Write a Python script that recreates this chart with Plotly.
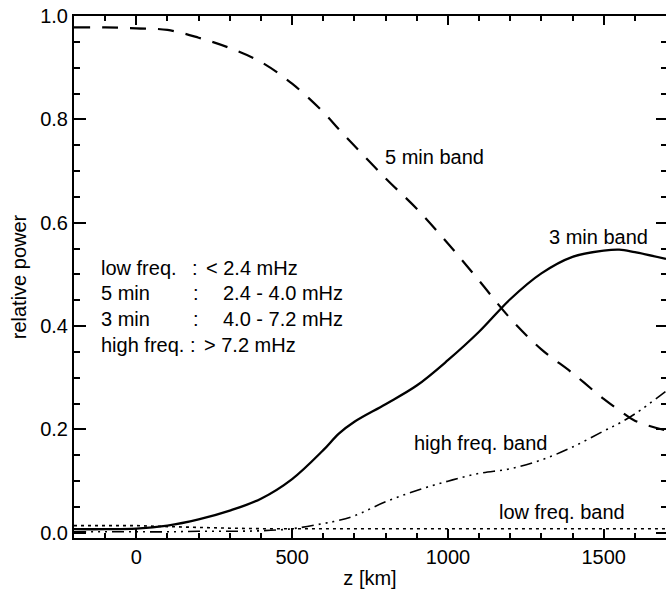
import plotly.graph_objects as go

# Height grid (km) and relative power in each frequency band
z_km = [-200, -100, 0, 100, 200, 300, 400, 500, 600, 650, 700, 800, 900,
        1000, 1100, 1200, 1300, 1400, 1500, 1550, 1600, 1700]

band_5min = [0.978, 0.978, 0.976, 0.973, 0.958, 0.938, 0.911, 0.869, 0.814, 0.781,
             0.749, 0.686, 0.627, 0.560, 0.488, 0.415, 0.355, 0.309, 0.259, 0.237,
             0.217, 0.198]
band_3min = [0.007, 0.007, 0.008, 0.014, 0.026, 0.043, 0.066, 0.104, 0.160, 0.192,
             0.215, 0.249, 0.285, 0.334, 0.389, 0.452, 0.502, 0.534, 0.546, 0.548,
             0.543, 0.530]
band_high = [0.002, 0.002, 0.002, 0.002, 0.003, 0.003, 0.004, 0.008, 0.018, 0.024,
             0.033, 0.060, 0.082, 0.100, 0.115, 0.124, 0.141, 0.166, 0.197, 0.212,
             0.230, 0.274]
band_low = [0.014, 0.014, 0.014, 0.012, 0.010, 0.009, 0.008, 0.008, 0.008, 0.008,
            0.008, 0.008, 0.008, 0.008, 0.008, 0.008, 0.008, 0.008, 0.008, 0.008,
            0.008, 0.008]

x_ticks = [0, 500, 1000, 1500]
y_ticks = [0.0, 0.2, 0.4, 0.6, 0.8, 1.0]
y_ticktext = ["0.0", "0.2", "0.4", "0.6", "0.8", "1.0"]

FONT = "Liberation Sans, Arial, Helvetica, sans-serif"
TXT = dict(family=FONT, size=20, color="black")

fig = go.Figure()
fig.add_trace(go.Scatter(x=z_km, y=band_5min, mode="lines",
                         line=dict(color="black", width=2.2, dash="16px,12px", shape="spline", smoothing=1.0)))
fig.add_trace(go.Scatter(x=z_km, y=band_3min, mode="lines",
                         line=dict(color="black", width=2.3, shape="spline", smoothing=1.0)))
fig.add_trace(go.Scatter(x=z_km, y=band_high, mode="lines",
                         line=dict(color="black", width=1.6, shape="spline", smoothing=1.0,
                                   dash="12px,5px,2px,5px,2px,5px,2px,5px")))
fig.add_trace(go.Scatter(x=z_km, y=band_low, mode="lines", yaxis="y2",
                         line=dict(color="black", width=1.6, dash="3px,4px")))

# Curve labels
labels = [
    ("5 min band", 793, 0.727),
    ("3 min band", 1317, 0.572),
    ("high freq. band", 886, 0.173),
    ("low freq. band", 1157, 0.040),
]
annotations = [dict(text=t, x=x, y=y, xref="x", yref="y", xanchor="left", yanchor="middle",
                    showarrow=False, font=TXT) for t, x, y in labels]

# Band definitions block
band_names = ["low freq.", "5 min", "3 min", "high freq."]
band_ranges = ["< 2.4 mHz", "2.4 - 4.0 mHz", "4.0 - 7.2 mHz", "> 7.2 mHz"]
rows_y = [0.512, 0.464, 0.414, 0.364]
colon_x = [172, 176, 176, 166]
range_x = [217, 272, 272, 211]
for name, rng, yy, cx, rx in zip(band_names, band_ranges, rows_y, colon_x, range_x):
    annotations.append(dict(text=name, x=-120, y=yy, xref="x", yref="y", xanchor="left",
                            yanchor="middle", showarrow=False, font=TXT))
    annotations.append(dict(text=":", x=cx, y=yy, xref="x", yref="y", xanchor="left",
                            yanchor="middle", showarrow=False, font=TXT))
    annotations.append(dict(text=rng, x=rx, y=yy, xref="x", yref="y", xanchor="left",
                            yanchor="middle", showarrow=False, font=TXT))

fig.update_layout(
    width=666, height=589,
    margin=dict(l=74, r=0, t=16, b=51),
    paper_bgcolor="white", plot_bgcolor="white",
    showlegend=False,
    font=TXT,
    annotations=annotations,
    xaxis=dict(range=[-200, 1700], tickvals=x_ticks, ticks="inside", ticklen=9, tickwidth=2,
               tickcolor="black", showline=True, linewidth=2, linecolor="black", mirror="ticks",
               showgrid=False, zeroline=False, tickfont=TXT,
               minor=dict(dtick=100, tick0=0, ticks="inside", ticklen=5, tickwidth=1.5, tickcolor="black"),
               title=dict(text="z [km]", font=TXT, standoff=4)),
    yaxis=dict(range=[-0.01, 1.0], tickvals=y_ticks, ticktext=y_ticktext, ticks="inside",
               ticklen=12, tickwidth=2, tickcolor="black", showline=True, linewidth=2,
               linecolor="black", showgrid=False, zeroline=False, tickfont=TXT,
               minor=dict(dtick=0.05, tick0=0, ticks="inside", ticklen=6, tickwidth=1.5, tickcolor="black"),
               title=dict(text="relative power", font=TXT, standoff=8)),
    yaxis2=dict(range=[-0.01, 1.0], overlaying="y", side="right", tickvals=y_ticks,
                ticks="inside", ticklen=10, tickwidth=2, tickcolor="black", showline=False,
                showticklabels=False, showgrid=False, zeroline=False,
                minor=dict(dtick=0.05, tick0=0, ticks="inside", ticklen=5, tickwidth=1.5, tickcolor="black")),
)

fig.write_html("out.html")
